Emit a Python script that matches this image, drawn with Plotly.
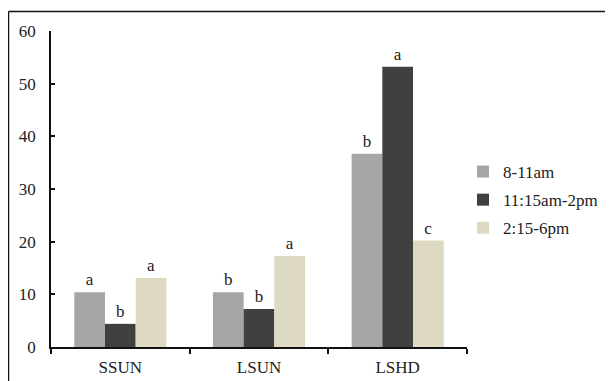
import plotly.graph_objects as go

categories = ["SSUN", "LSUN", "LSHD"]
series_names = ["8-11am", "11:15am-2pm", "2:15-6pm"]
values_morning = [10.4, 10.4, 36.7]
values_midday = [4.4, 7.2, 53.2]
values_afternoon = [13.1, 17.3, 20.2]
letters_morning = ["a", "b", "b"]
letters_midday = ["b", "b", "a"]
letters_afternoon = ["a", "a", "c"]
y_ticks = [0, 10, 20, 30, 40, 50, 60]

colors = ["#a6a6a6", "#404040", "#ddd9c3"]
FONT = "Liberation Serif"
TXT = "#222222"

fig = go.Figure()
for i, (name, vals, lets) in enumerate(zip(series_names,
                                           [values_morning, values_midday, values_afternoon],
                                           [letters_morning, letters_midday, letters_afternoon])):
    fig.add_trace(go.Bar(
        x=categories, y=vals, name=name,
        marker=dict(color=colors[i], line=dict(width=0)),
        text=lets, textposition="outside", cliponaxis=False,
        textfont=dict(family=FONT, size=17, color=TXT),
        legendgroup=f"g{i}",
    ))

# page body has an 8px default margin, so figure coords = screen coords - 8
W, H = 605, 373
L, R, T, B = 43, 146, 23, 34
pw, ph = W - L - R, H - T - B

def px_to_paper_x(px):
    return (px - L) / pw

def py_to_paper_y(py):
    return (H - B - py) / ph

fig.update_layout(
    width=W, height=H,
    margin=dict(l=L, r=R, t=T, b=B, autoexpand=False),
    paper_bgcolor="white", plot_bgcolor="white",
    barmode="group", bargap=0.336, bargroupgap=0,
    font=dict(family=FONT, size=17, color=TXT),
    showlegend=True,
    legend=dict(
        x=px_to_paper_x(455), y=py_to_paper_y(146), xanchor="left", yanchor="top",
        font=dict(family=FONT, size=17, color=TXT),
        bgcolor="rgba(0,0,0,0)", tracegroupgap=3, traceorder="grouped",
    ),
    xaxis=dict(
        showline=True, linecolor="#111", linewidth=1.5,
        ticks="outside", tickson="boundaries", ticklen=5, tickcolor="#111", tickwidth=1.5,
        showgrid=False, zeroline=False, ticklabelstandoff=4,
        tickfont=dict(family=FONT, size=17, color=TXT),
    ),
    yaxis=dict(
        range=[0, 60], tickvals=y_ticks,
        showline=True, linecolor="#111", linewidth=1.5,
        ticks="inside", ticklen=4, tickcolor="#111", tickwidth=1.5,
        showgrid=False, zeroline=False, ticklabelstandoff=10,
        tickfont=dict(family=FONT, size=17, color=TXT),
    ),
    shapes=[
        dict(type="line", xref="paper", yref="paper",
             x0=px_to_paper_x(0.5), x1=px_to_paper_x(620), y0=py_to_paper_y(3.5), y1=py_to_paper_y(3.5),
             line=dict(color="#111", width=1.5)),
        dict(type="line", xref="paper", yref="paper",
             x0=px_to_paper_x(0.5), x1=px_to_paper_x(0.5), y0=py_to_paper_y(3.5), y1=py_to_paper_y(390),
             line=dict(color="#111", width=1.5)),
    ],
)

fig.write_html("out.html")
